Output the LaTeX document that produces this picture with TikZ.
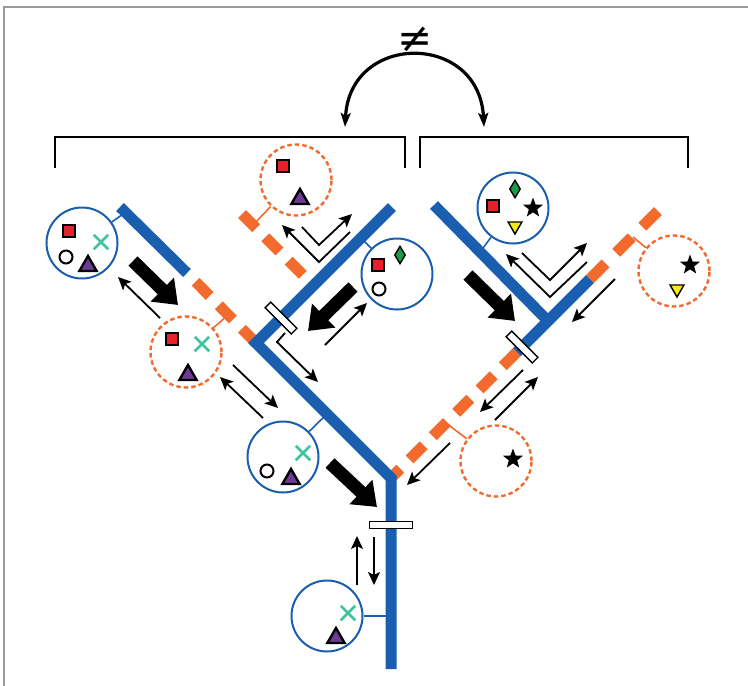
\documentclass[tikz,border=0pt]{standalone}
\usepackage{fontspec}
\newfontfamily\symfnt{DejaVu Sans}
\usetikzlibrary{arrows.meta,shapes.geometric,shapes.misc}
\definecolor{bblue}{HTML}{1A5EAF}
\definecolor{oorange}{HTML}{F26A2C}
\definecolor{tteal}{HTML}{3FC59D}
\definecolor{ppurple}{HTML}{6E3A96}
\definecolor{rred}{HTML}{E8202A}
\definecolor{ggreen}{HTML}{1E9A4C}
\definecolor{yyellow}{HTML}{F5EA14}
\definecolor{fgray}{HTML}{9A9A9A}
\tikzset{
 bbranch/.style={draw=bblue, line width=11pt, line cap=butt, line join=miter},
 obranch/.style={draw=oorange, line width=11pt, dash pattern=on 20pt off 13pt},
 barbox/.style={draw=black, fill=white, line width=1.3pt, minimum width=37pt, minimum height=8pt, inner sep=0pt},
 bcirc/.style={circle, draw=bblue, line width=2pt, minimum size=71pt, inner sep=0pt},
 ocirc/.style={circle, draw=oorange, line width=2.4pt, dash pattern=on 4.5pt off 3pt, minimum size=71pt, inner sep=0pt},
 bconn/.style={draw=bblue, line width=1.6pt},
 oconn/.style={draw=oorange, line width=1.6pt},
 sqm/.style={rectangle, fill=rred, draw=black, line width=1.4pt, minimum size=12pt, inner sep=0pt},
 trim/.style={regular polygon, regular polygon sides=3, fill=ppurple, draw=black, line width=2.4pt, minimum size=20pt, inner sep=0pt},
 ytrim/.style={regular polygon, regular polygon sides=3, shape border rotate=180, fill=yyellow, draw=black, line width=1.4pt, minimum size=16pt, inner sep=0pt},
 diam/.style={diamond, fill=ggreen, draw=black, line width=1.4pt, minimum width=11pt, minimum height=18pt, inner sep=0pt},
 xm/.style={cross out, draw=tteal, line width=2.5pt, minimum size=12pt, inner sep=0pt},
 ocm/.style={circle, draw=black, line width=2pt, minimum size=13pt, inner sep=0pt},
 starm/.style={star, star points=5, star point ratio=2.4, fill=black, minimum size=21pt, inner sep=0pt},
 fat/.style={line width=13pt, -{Triangle[length=22pt,width=32pt]}},
 thin/.style={line width=1.8pt, line join=miter, -{Stealth[length=13pt,width=12pt,inset=3pt]}},
 bracketline/.style={line width=1.8pt, line join=miter},
 arcarrow/.style={line width=3.2pt, {Stealth[length=14pt,width=10pt,inset=3pt]}-{Stealth[length=14pt,width=10pt,inset=3pt]}},
}
\begin{document}
\begin{tikzpicture}[x=1pt,y=-1pt]
\useasboundingbox (0,0) rectangle (748,686);
% frame
\draw[fgray, line width=1.5pt] (4,686) -- (4,7) -- (748,7);
% brackets
\coordinate (bl1) at (55,168); \coordinate (bl2) at (55,137);
\coordinate (bl3) at (405,137); \coordinate (bl4) at (405,168);
\coordinate (br1) at (420,168); \coordinate (br2) at (420,137);
\coordinate (br3) at (688,137); \coordinate (br4) at (688,168);
\draw[bracketline] (bl1) -- (bl2) -- (bl3) -- (bl4);
\draw[bracketline] (br1) -- (br2) -- (br3) -- (br4);
% arc with not-equal
\node[inner sep=0pt, font=\symfnt\fontsize{42}{42}\selectfont] (neq) at (415,40) {≠};
\coordinate (arcL) at (345,127); \coordinate (arcR) at (484,127);
\draw[arcarrow] (arcL) .. controls (350,32) and (479,32) .. (arcR);
% tree coordinates
\coordinate (J) at (391,478); \coordinate (S) at (391,669);
\coordinate (L) at (256,343); \coordinate (LT) at (120,207); \coordinate (LO) at (187,273);
\coordinate (UT) at (392,207);
\coordinate (OU1) at (242,214); \coordinate (OUJ) at (313,285);
\coordinate (R) at (548,321); \coordinate (RB) at (517,352);
\coordinate (RTop) at (434,205); \coordinate (RF) at (590,279); \coordinate (OF) at (659,210);
% circles
\node[bcirc] (c1) at (82,243) {};
\node[ocirc] (c2) at (186,352) {};
\node[ocirc] (c3) at (296,180) {};
\node[bcirc] (c4) at (397,274) {};
\node[bcirc] (c5) at (283,457) {};
\node[bcirc] (c6) at (327,616) {};
\node[bcirc] (c7) at (513,208) {};
\node[ocirc] (c8) at (674,271) {};
\node[ocirc] (c9) at (496,461) {};
% markers
\node[sqm] (m1a) at (69,231) {};
\node[xm] (m1b) at (101,242) {};
\node[ocm] (m1c) at (66,257) {};
\node[trim] (m1d) at (88,266) {};
\node[sqm] (m2a) at (172,339) {};
\node[xm] (m2b) at (202,344) {};
\node[trim] (m2d) at (188,375) {};
\node[sqm] (m3a) at (283,166) {};
\node[trim] (m3d) at (300,199) {};
\node[sqm] (m4a) at (378,265) {};
\node[diam] (m4b) at (400,255) {};
\node[ocm] (m4c) at (379,289) {};
\node[xm] (m5b) at (303,453) {};
\node[ocm] (m5c) at (267,471) {};
\node[trim] (m5d) at (291,479) {};
\node[xm] (m6b) at (348,613) {};
\node[trim] (m6d) at (336,638) {};
\node[diam] (m7b) at (515,189) {};
\node[sqm] (m7a) at (493,206) {};
\node[starm] (m7s) at (533,208) {};
\node[ytrim] (m7y) at (515,226) {};
\node[starm] (m8s) at (690,265) {};
\node[ytrim] (m8y) at (677,289) {};
\node[starm] (m9s) at (513,459) {};
% connectors
\coordinate (k1) at (126,212); \coordinate (k2) at (228,315); \coordinate (k3) at (253,225);
\coordinate (k4) at (361,238); \coordinate (k5) at (327,414); \coordinate (k6) at (391,616);
\coordinate (k7) at (480,252); \coordinate (k8) at (633,237); \coordinate (k9) at (446,423);
\draw[bconn] (c1) -- (k1);
\draw[oconn] (c2) -- (k2);
\draw[oconn] (c3) -- (k3);
\draw[bconn] (c4) -- (k4);
\draw[bconn] (c5) -- (k5);
\draw[bconn] (c6) -- (k6);
\draw[bconn] (c7) -- (k7);
\draw[oconn] (c8) -- (k8);
\draw[oconn] (c9) -- (k9);
% orange branches
\draw[obranch] (L) -- (LO);
\draw[obranch] (OU1) -- (OUJ);
\draw[obranch] (RB) -- (J);
\draw[obranch, dash pattern=on 22pt off 15pt] (RF) -- (OF);
% blue branches
\draw[bbranch] (UT) -- (L) -- (J) -- (S);
\draw[bbranch] (LT) -- (LO);
\draw[bbranch] (RTop) -- (R);
\draw[bbranch] (RB) -- (R) -- (RF);
% bars
\node[barbox, rotate=-45] (b1) at (281,318) {};
\node[barbox, rotate=-45] (b2) at (522,347) {};
\node[barbox, minimum width=43pt, minimum height=7pt] (b3) at (391,525) {};
% fat arrows
\coordinate (f1s) at (133,261); \coordinate (f1e) at (178,305);
\coordinate (f2s) at (353,287); \coordinate (f2e) at (308,331);
\coordinate (f3s) at (468,275); \coordinate (f3e) at (515,321);
\coordinate (f4s) at (330,463); \coordinate (f4e) at (377,507);
\draw[fat] (f1s) -- (f1e);
\draw[fat] (f2s) -- (f2e);
\draw[fat] (f3s) -- (f3e);
\draw[fat] (f4s) -- (f4e);
% thin arrows
\coordinate (t1s) at (160,318); \coordinate (t1e) at (118,277);
\coordinate (t2s) at (263,418); \coordinate (t2e) at (220,377);
\coordinate (t3s) at (233,365); \coordinate (t3e) at (278,408);
\coordinate (t4s) at (285,333); \coordinate (t4m) at (277,342); \coordinate (t4e) at (318,382);
\coordinate (t5s) at (325,345); \coordinate (t5e) at (367,303);
\coordinate (t6s) at (350,232); \coordinate (t6m) at (319,262); \coordinate (t6e) at (282,225);
\coordinate (t7s) at (302,227); \coordinate (t7m) at (319,245); \coordinate (t7e) at (352,214);
\coordinate (t8s) at (587,262); \coordinate (t8m) at (550,297); \coordinate (t8e) at (506,254);
\coordinate (t9s) at (522,253); \coordinate (t9m) at (550,280); \coordinate (t9e) at (587,243);
\coordinate (t10s) at (615,279); \coordinate (t10e) at (572,322);
\coordinate (t11s) at (523,370); \coordinate (t11e) at (480,412);
\coordinate (t12s) at (495,420); \coordinate (t12e) at (538,377);
\coordinate (t13s) at (450,443); \coordinate (t13e) at (407,485);
\coordinate (t14s) at (357,585); \coordinate (t14e) at (357,536);
\coordinate (t15s) at (374,537); \coordinate (t15e) at (374,585);
\draw[thin] (t1s) -- (t1e);
\draw[thin] (t2s) -- (t2e);
\draw[thin] (t3s) -- (t3e);
\draw[thin] (t4s) -- (t4m) -- (t4e);
\draw[thin] (t5s) -- (t5e);
\draw[thin] (t6s) -- (t6m) -- (t6e);
\draw[thin] (t7s) -- (t7m) -- (t7e);
\draw[thin] (t8s) -- (t8m) -- (t8e);
\draw[thin] (t9s) -- (t9m) -- (t9e);
\draw[thin] (t10s) -- (t10e);
\draw[thin] (t11s) -- (t11e);
\draw[thin] (t12s) -- (t12e);
\draw[thin] (t13s) -- (t13e);
\draw[thin] (t14s) -- (t14e);
\draw[thin] (t15s) -- (t15e);
\end{tikzpicture}
\end{document}
